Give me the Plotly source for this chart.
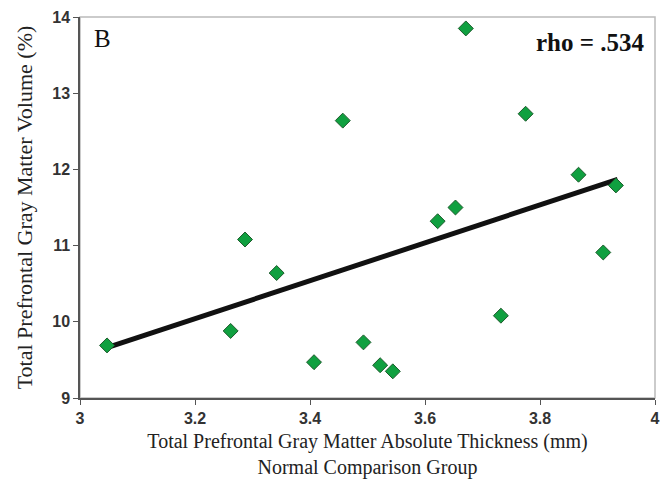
import plotly.graph_objects as go

thickness = [3.047, 3.262, 3.287, 3.342, 3.407, 3.457, 3.493, 3.522, 3.544, 3.622, 3.653, 3.671, 3.732, 3.775, 3.867, 3.910, 3.932]
volume = [9.69, 9.88, 11.08, 10.64, 9.47, 12.64, 9.73, 9.43, 9.35, 11.32, 11.50, 13.85, 10.08, 12.73, 11.93, 10.91, 11.79]
fit_x = [3.047, 3.935]
fit_y = [9.66, 11.87]

x_ticks = [3, 3.2, 3.4, 3.6, 3.8, 4]
x_tick_labels = ["3", "3.2", "3.4", "3.6", "3.8", "4"]
y_ticks = [9, 10, 11, 12, 13, 14]

fig = go.Figure()
fig.add_trace(go.Scatter(x=fit_x, y=fit_y, mode="lines",
                         line=dict(color="#111111", width=5), showlegend=False))
fig.add_trace(go.Scatter(x=thickness, y=volume, mode="markers",
                         marker=dict(symbol="diamond", size=11.5, color="#10a040",
                                     line=dict(color="#1d5b2c", width=1)),
                         showlegend=False))

tickfont = dict(family="Liberation Sans", size=16, color="#333333", weight="bold")
xtitlefont = dict(family="Liberation Serif", size=20, color="#222222")
ytitlefont = dict(family="Liberation Serif", size=22, color="#222222")

fig.update_layout(
    width=669, height=484,
    margin=dict(l=80, r=9, t=15, b=84),
    paper_bgcolor="white", plot_bgcolor="white",
    xaxis=dict(range=[3, 4], tickvals=x_ticks, ticktext=x_tick_labels,
               showgrid=False, zeroline=False, ticks="outside", ticklen=5,
               tickcolor="#555555", linecolor="#555555", linewidth=1.5,
               showline=True, mirror=False, tickfont=tickfont,
               title=dict(text="Total Prefrontal Gray Matter Absolute Thickness (mm)<br>Normal Comparison Group",
                          font=xtitlefont, standoff=8)),
    yaxis=dict(range=[9, 14], tickvals=y_ticks,
               showgrid=False, zeroline=False, ticks="outside", ticklen=5,
               tickcolor="#555555", linecolor="#555555", linewidth=1.5,
               showline=True, tickfont=tickfont,
               title=dict(text="Total Prefrontal Gray Matter Volume (%)", font=ytitlefont, standoff=14)),
    shapes=[dict(type="rect", xref="paper", yref="paper", x0=0, x1=1, y0=0, y1=1,
                 line=dict(color="#bbbbbb", width=1.5), layer="below")],
    annotations=[
        dict(text="B", xref="paper", yref="paper", x=0.02, y=0.985, xanchor="left", yanchor="top",
             showarrow=False, font=dict(family="Liberation Serif", size=25, color="#111111")),
        dict(text="<b>rho = .534</b>", xref="paper", yref="paper", x=0.985, y=0.975,
             xanchor="right", yanchor="top", showarrow=False,
             font=dict(family="Liberation Serif", size=25, color="#111111")),
    ],
)

fig.write_html("out.html")
